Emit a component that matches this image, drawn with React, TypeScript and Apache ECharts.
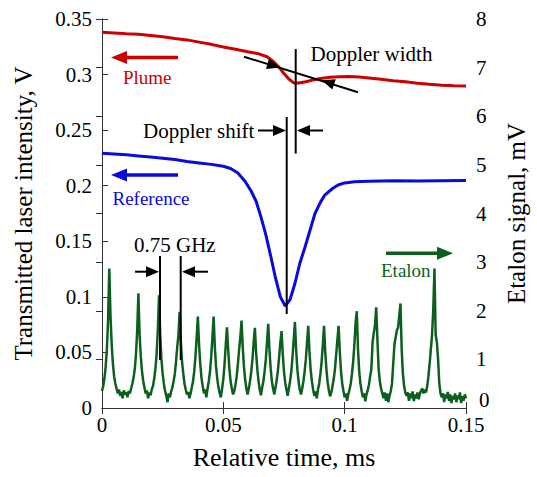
import React, { useEffect, useRef } from "react";
import * as echarts from "echarts";

// ---- data ----
const xTicks = [0, 0.05, 0.1, 0.15];

// Plume transmission (left axis, V): [time ms, value]
const plumeTime = [0, 0.005, 0.01, 0.015, 0.02, 0.025, 0.03, 0.035, 0.04, 0.045, 0.05, 0.055, 0.06, 0.064, 0.068, 0.0705, 0.073, 0.075, 0.077, 0.079, 0.081, 0.084, 0.087, 0.09, 0.094, 0.098, 0.102, 0.106, 0.11, 0.115, 0.12, 0.125, 0.13, 0.135, 0.14, 0.145, 0.15];
const plumeValue = [0.338, 0.3375, 0.3368, 0.3362, 0.3352, 0.334, 0.3325, 0.3312, 0.3292, 0.3272, 0.3248, 0.3228, 0.3205, 0.319, 0.316, 0.312, 0.3065, 0.301, 0.296, 0.2925, 0.2925, 0.2936, 0.2952, 0.2965, 0.2975, 0.298, 0.2982, 0.2978, 0.297, 0.2958, 0.2945, 0.2935, 0.2922, 0.2912, 0.2905, 0.29, 0.2898];

// Reference cell transmission (left axis, V)
const refTime = [0, 0.005, 0.01, 0.015, 0.02, 0.025, 0.03, 0.035, 0.04, 0.045, 0.05, 0.053, 0.056, 0.059, 0.0615, 0.0635, 0.0655, 0.0675, 0.0695, 0.0715, 0.0735, 0.0755, 0.0775, 0.0795, 0.0815, 0.0837, 0.086, 0.0878, 0.09, 0.0918, 0.095, 0.0973, 0.1, 0.1041, 0.11, 0.115, 0.12, 0.13, 0.14, 0.15];
const refValue = [0.2292, 0.2285, 0.2278, 0.2268, 0.2258, 0.2248, 0.2235, 0.2218, 0.2205, 0.2192, 0.2175, 0.2155, 0.2115, 0.2038, 0.195, 0.186, 0.172, 0.156, 0.137, 0.117, 0.1, 0.0918, 0.0975, 0.112, 0.13, 0.1451, 0.162, 0.1752, 0.185, 0.1916, 0.1975, 0.2006, 0.2025, 0.2036, 0.204, 0.2042, 0.2044, 0.2043, 0.2045, 0.2046];

// Etalon signal (right axis, mV), sampled every 0.0005 ms from 0 to 0.15
const etalonStep = 0.0005;
const etalonValue = [
  0.35, 0.45, 0.6, 0.85, 1.2, 1.8, 2.87, 1.9, 1.3, 0.9,
  0.65, 0.5, 0.4, 0.3, 0.38, 0.25, 0.33, 0.2, 0.36, 0.28,
  0.32, 0.22, 0.35, 0.3, 0.4, 0.5, 0.62, 0.8, 1.1, 1.6,
  2.36, 1.5, 1.05, 0.75, 0.55, 0.42, 0.3, 0.36, 0.2, 0.32,
  0.26, 0.38, 0.45, 0.6, 0.8, 1.1, 1.6, 2.32, 1.5, 1.0,
  0.7, 0.5, 0.35, 0.25, 0.12, 0.3, 0.22, 0.34, 0.42, 0.55,
  0.7, 0.95, 1.25, 1.5, 1.98, 1.35, 0.95, 0.7, 0.5, 0.38,
  0.28, 0.33, 0.2, 0.3, 0.42, 0.55, 0.75, 1.05, 1.45, 1.88,
  1.3, 0.9, 0.62, 0.45, 0.3, 0.38, 0.22, 0.4, 0.55, 0.75,
  1.05, 1.45, 1.88, 1.25, 0.85, 0.6, 0.42, 0.3, 0.22, 0.4,
  0.6, 0.9, 1.3, 1.66, 1.2, 0.8, 0.55, 0.4, 0.28, 0.35,
  0.48, 0.65, 0.9, 1.2, 1.45, 1.8, 1.25, 0.85, 0.58, 0.4,
  0.28, 0.4, 0.55, 0.75, 1.0, 1.35, 1.65, 1.15, 0.8, 0.55,
  0.38, 0.26, 0.42, 0.55, 0.75, 1.0, 1.35, 1.73, 1.2, 0.82,
  0.55, 0.4, 0.28, 0.42, 0.58, 0.78, 1.05, 1.35, 1.58, 1.1,
  0.75, 0.52, 0.38, 0.25, 0.4, 0.55, 0.75, 1.05, 1.4, 1.77,
  1.2, 0.8, 0.55, 0.38, 0.28, 0.4, 0.55, 0.75, 1.0, 1.35,
  1.69, 1.15, 0.78, 0.55, 0.38, 0.25, 0.34, 0.2, 0.38, 0.5,
  0.7, 0.95, 1.3, 1.69, 1.15, 0.78, 0.52, 0.36, 0.24, 0.32,
  0.45, 0.6, 0.8, 1.1, 1.4, 1.69, 1.15, 0.75, 0.5, 0.35,
  0.22, 0.3, 0.15, 0.28, 0.38, 0.5, 0.7, 0.95, 1.3, 1.75,
  1.99, 1.2, 0.75, 0.5, 0.35, 0.22, 0.3, 0.14, 0.28, 0.36,
  0.48, 0.65, 0.8, 1.35, 1.55, 1.7, 2.07, 1.4, 0.8, 0.55,
  0.4, 0.3, 0.2, 0.32, 0.15, 0.3, 0.12, 0.25, 0.35, 0.5,
  0.9, 1.3, 1.45, 1.6, 1.65, 1.9, 2.15, 1.2, 0.7, 0.45,
  0.32, 0.25, 0.32, 0.15, 0.3, 0.2, 0.34, 0.14, 0.28, 0.2,
  0.32, 0.18, 0.3, 0.36, 0.4, 0.3, 0.38, 0.32, 0.44, 0.65,
  0.9, 1.2, 1.5, 2.0, 2.87, 1.5, 1.35, 1.0, 0.5, 0.3,
  0.22, 0.3, 0.12, 0.28, 0.2, 0.33, 0.15, 0.28, 0.1, 0.25,
  0.18, 0.3, 0.12, 0.26, 0.18, 0.32, 0.1, 0.24, 0.15, 0.28,
  0.2,
];

const RED = "#cc0000";
const BLUE = "#0a0adc";
const GREEN = "#0d5f1f";
const FONT = '"Liberation Serif", "Times New Roman", serif';

function head(tx: number, ty: number, fx: number, fy: number, color: string, len: number, hw: number) {
  const dx = tx - fx, dy = ty - fy;
  const L = Math.hypot(dx, dy);
  const ux = dx / L, uy = dy / L;
  const bx = tx - ux * len, by = ty - uy * len;
  const px = -uy * hw, py = ux * hw;
  return {
    type: "polygon",
    z: 100,
    shape: { points: [[tx, ty], [bx + px, by + py], [bx - px, by - py]] },
    style: { fill: color },
  };
}

function arrow(x1: number, y1: number, x2: number, y2: number, color: string, w: number, len: number, hw: number) {
  const dx = x2 - x1, dy = y2 - y1;
  const L = Math.hypot(dx, dy);
  const ex = x2 - (dx / L) * (len * 0.8), ey = y2 - (dy / L) * (len * 0.8);
  return [
    { type: "line", z: 100, shape: { x1, y1, x2: ex, y2: ey }, style: { stroke: color, lineWidth: w } },
    head(x2, y2, x1, y1, color, len, hw),
  ];
}

function vline(x: number, y1: number, y2: number) {
  return { type: "line", z: 100, shape: { x1: x, y1, x2: x, y2 }, style: { stroke: "#000", lineWidth: 2 } };
}

function label(text: string, x: number, y: number, color: string, size: number) {
  return {
    type: "text",
    z: 100,
    x,
    y,
    style: { text, fill: color, fontSize: size, fontFamily: FONT, textAlign: "left", textVerticalAlign: "middle" },
  };
}

const fmt = (v: number) => String(parseFloat(v.toFixed(3)));

export default function App() {
  const ref = useRef<HTMLDivElement>(null);
  useEffect(() => {
    if (!ref.current) return;
    const chart = echarts.init(ref.current, null, { renderer: "svg" });

    const plume = plumeTime.map((t, i) => [t, plumeValue[i]]);
    const reference = refTime.map((t, i) => [t, refValue[i]]);
    const etalon = etalonValue.map((v, i) => [parseFloat((i * etalonStep).toFixed(4)), v]);

    const axisLine = { show: true, lineStyle: { color: "#333", width: 1 } };
    const tick = { show: true, inside: true, length: 6, lineStyle: { color: "#333", width: 1 } };

    const graphic: any[] = [
      // Doppler width line with two inward arrowheads
      { type: "line", z: 100, shape: { x1: 244, y1: 56.7, x2: 358, y2: 92.3 }, style: { stroke: "#000", lineWidth: 2 } },
      head(280, 67.6, 244, 56.7, "#000", 13, 5.5),
      head(321.7, 80.3, 358, 92.3, "#000", 13, 5.5),
      vline(295.7, 49, 153.5),
      vline(286.7, 117, 314),
      ...arrow(258, 130.5, 286, 130.5, "#000", 2, 13, 5.5),
      ...arrow(323, 130.5, 297, 130.5, "#000", 2, 13, 5.5),
      vline(160, 256, 360),
      vline(180.7, 256, 360),
      ...arrow(135, 271.7, 159, 271.7, "#000", 2, 13, 5.5),
      ...arrow(208, 271.7, 182, 271.7, "#000", 2, 13, 5.5),
      ...arrow(178, 57.5, 111, 57.5, RED, 3.5, 16, 6.5),
      ...arrow(178, 175, 111, 175, BLUE, 3.5, 16, 6.5),
      ...arrow(386, 253.3, 453, 253.3, GREEN, 3.5, 16, 6.5),
      label("Doppler width", 310.5, 54, "#000", 21),
      label("Doppler shift", 143, 131, "#000", 21),
      label("0.75 GHz", 134, 244.5, "#000", 21),
      label("Plume", 123, 77, RED, 19),
      label("Reference", 112.5, 198, BLUE, 19),
      label("Etalon", 381, 270, GREEN, 19),
      // right-axis zero label, sitting a little above its tick as in the reference
      {
        type: "text",
        z: 100,
        x: 479,
        y: 400,
        style: { text: "0", fill: "#000", fontSize: 21, fontFamily: FONT, textAlign: "left", textVerticalAlign: "middle" },
      },
    ];

    chart.setOption({
      animation: false,
      backgroundColor: "#fff",
      textStyle: { fontFamily: FONT },
      grid: { left: 102, right: 68, top: 19, bottom: 69, containLabel: false },
      xAxis: [
        {
          type: "value",
          position: "bottom",
          min: xTicks[0],
          max: xTicks[xTicks.length - 1],
          interval: 0.05,
          splitLine: { show: false },
          axisLine,
          axisTick: tick,
          axisLabel: { color: "#000", fontSize: 21, lineHeight: 17, fontFamily: FONT, margin: 8, formatter: fmt },
          name: "Relative time, ms",
          nameLocation: "middle",
          nameGap: 36,
          nameTextStyle: { color: "#000", fontSize: 26, fontFamily: FONT },
        },
        {
          type: "value",
          position: "top",
          min: xTicks[0],
          max: xTicks[xTicks.length - 1],
          interval: 0.05,
          splitLine: { show: false },
          axisLine,
          axisTick: tick,
          axisLabel: { show: false },
        },
      ],
      yAxis: [
        {
          type: "value",
          position: "left",
          min: 0,
          max: 0.35,
          interval: 0.05,
          splitLine: { show: false },
          axisLine,
          axisTick: tick,
          axisLabel: { color: "#000", fontSize: 21, lineHeight: 17, fontFamily: FONT, margin: 10, formatter: fmt },
          name: "Transmitted laser intensity, V",
          nameLocation: "middle",
          nameRotate: 90,
          nameGap: 66,
          nameTextStyle: { color: "#000", fontSize: 25, fontFamily: FONT },
        },
        {
          type: "value",
          position: "right",
          min: 0,
          max: 8,
          interval: 1,
          splitLine: { show: false },
          axisLine,
          axisTick: tick,
          axisLabel: { color: "#000", fontSize: 21, lineHeight: 17, fontFamily: FONT, margin: 10, showMinLabel: false },
          name: "Etalon signal, mV",
          nameLocation: "middle",
          nameRotate: 90,
          nameGap: 38,
          nameTextStyle: { color: "#000", fontSize: 25, fontFamily: FONT },
        },
      ],
      series: [
        {
          name: "Etalon",
          type: "line",
          xAxisIndex: 0,
          yAxisIndex: 1,
          data: etalon,
          showSymbol: false,
          lineStyle: { color: GREEN, width: 2.5 },
          z: 2,
        },
        {
          name: "Reference",
          type: "line",
          xAxisIndex: 0,
          yAxisIndex: 0,
          data: reference,
          showSymbol: false,
          lineStyle: { color: BLUE, width: 3 },
          z: 3,
        },
        {
          name: "Plume",
          type: "line",
          xAxisIndex: 0,
          yAxisIndex: 0,
          data: plume,
          showSymbol: false,
          lineStyle: { color: RED, width: 3 },
          z: 4,
        },
      ],
      graphic,
    });
    return () => chart.dispose();
  }, []);

  return (
    <div
      ref={ref}
      style={{ position: "fixed", left: 0, top: 0, width: 537, height: 477, background: "#fff" }}
    />
  );
}
